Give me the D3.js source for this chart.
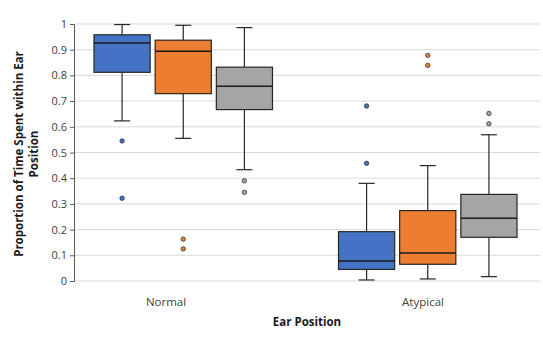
<!DOCTYPE html>
<html>
<head>
<meta charset="utf-8">
<script src="https://cdn.jsdelivr.net/npm/d3@7"></script>
<style>
  body { margin: 0; background: #fff; }
  text { font-family: "Open Sans", "Liberation Sans", sans-serif; }
</style>
</head>
<body>
<svg id="chart" width="543" height="339"></svg>
<script>
var categories = ["Normal", "Atypical"];
var seriesNames = ["Series 1", "Series 2", "Series 3"];
var seriesColors = ["#4472C4", "#ED7D31", "#A5A5A5"];
var yTicks = [0, 0.1, 0.2, 0.3, 0.4, 0.5, 0.6, 0.7, 0.8, 0.9, 1];

// [whiskerLow, q1, median, q3, whiskerHigh] per category, per series
var blueStats = [[0.623, 0.812, 0.926, 0.958, 0.998], [0.004, 0.045, 0.078, 0.192, 0.380]];
var orangeStats = [[0.555, 0.729, 0.894, 0.937, 0.995], [0.008, 0.065, 0.109, 0.274, 0.449]];
var grayStats = [[0.433, 0.667, 0.758, 0.832, 0.986], [0.017, 0.170, 0.244, 0.337, 0.569]];
var blueOutliers = [[0.545, 0.322], [0.681, 0.458]];
var orangeOutliers = [[0.163, 0.125], [0.878, 0.839]];
var grayOutliers = [[0.390, 0.345], [0.652, 0.612]];

var allStats = [blueStats, orangeStats, grayStats];
var allOutliers = [blueOutliers, orangeOutliers, grayOutliers];

var svg = d3.select("#chart"),
    margin = { top: 24, right: 3, bottom: 58, left: 74 },
    width = +svg.attr("width") - margin.left - margin.right,
    height = +svg.attr("height") - margin.top - margin.bottom;

var y = d3.scaleLinear().domain([0, 1]).range([height, 0]);

// box groups sit a bit right of the category labels (as in the source)
var x = d3.scaleBand().domain(categories).range([20, 443]).paddingInner(0.27);
var xInner = d3.scaleBand().domain(seriesNames).range([0, x.bandwidth()]).paddingInner(0.082);
var xLabel = d3.scalePoint().domain(categories).range([92, 349]);

var g = svg.append("g")
    .attr("transform", "translate(" + margin.left + "," + margin.top + ")");

// grid
g.append("g").selectAll("line")
    .data(yTicks)
    .enter().append("line")
    .attr("x1", 0).attr("x2", width)
    .attr("y1", function (d) { return y(d); })
    .attr("y2", function (d) { return y(d); })
    .attr("stroke", "#d9d9d9").attr("stroke-width", 1);

// y axis
var yAxis = g.append("g")
    .call(d3.axisLeft(y).tickValues(yTicks).tickSize(4).tickFormat(function (d) { return d3.format("")(d); }));
yAxis.select(".domain").attr("stroke", "#595959");
yAxis.selectAll(".tick line").attr("stroke", "#595959");
yAxis.selectAll(".tick text").attr("font-size", 11).attr("fill", "#404040")
    .attr("x", -7).attr("font-family", "'Open Sans', sans-serif");

// boxes
var boxW = xInner.bandwidth();
seriesNames.forEach(function (s, si) {
    var color = seriesColors[si];
    var stroke = "#262626";
    categories.forEach(function (c, ci) {
        var st = allStats[si][ci];
        var x0 = x(c) + xInner(s);
        var cx = x0 + boxW / 2;
        var bg = g.append("g");
        // whiskers
        bg.append("line").attr("x1", cx).attr("x2", cx)
            .attr("y1", y(st[4])).attr("y2", y(st[3]))
            .attr("stroke", stroke).attr("stroke-width", 1.2);
        bg.append("line").attr("x1", cx).attr("x2", cx)
            .attr("y1", y(st[1])).attr("y2", y(st[0]))
            .attr("stroke", stroke).attr("stroke-width", 1.2);
        bg.append("line").attr("x1", cx - 8).attr("x2", cx + 8)
            .attr("y1", y(st[4])).attr("y2", y(st[4]))
            .attr("stroke", stroke).attr("stroke-width", 1.2);
        bg.append("line").attr("x1", cx - 8).attr("x2", cx + 8)
            .attr("y1", y(st[0])).attr("y2", y(st[0]))
            .attr("stroke", stroke).attr("stroke-width", 1.2);
        // box
        bg.append("rect")
            .attr("x", x0).attr("width", boxW)
            .attr("y", y(st[3])).attr("height", y(st[1]) - y(st[3]))
            .attr("fill", color).attr("stroke", stroke).attr("stroke-width", 1.2);
        bg.append("line").attr("x1", x0).attr("x2", x0 + boxW)
            .attr("y1", y(st[2])).attr("y2", y(st[2]))
            .attr("stroke", "#1a1a1a").attr("stroke-width", 1.4);
        // outliers
        bg.selectAll("circle")
            .data(allOutliers[si][ci])
            .enter().append("circle")
            .attr("cx", cx).attr("cy", function (d) { return y(d); })
            .attr("r", 2.2)
            .attr("fill", color).attr("stroke", "#333").attr("stroke-width", 0.8);
    });
});

// category labels
g.append("g").selectAll("text")
    .data(categories)
    .enter().append("text")
    .attr("x", function (d) { return xLabel(d); })
    .attr("y", height + 25)
    .attr("text-anchor", "middle")
    .attr("font-size", 11.5).attr("fill", "#404040")
    .text(function (d) { return d; });

// axis titles
svg.append("text")
    .attr("x", 307).attr("y", 326)
    .attr("text-anchor", "middle")
    .attr("font-size", 11.5).attr("font-weight", "bold").attr("fill", "#1a1a1a")
    .text("Ear Position");

var yt = svg.append("text")
    .attr("transform", "translate(23,154) rotate(-90)")
    .attr("text-anchor", "middle")
    .attr("font-size", 11.5).attr("font-weight", "bold").attr("fill", "#1a1a1a");
yt.append("tspan").attr("x", 0).attr("y", 0).text("Proportion of Time Spent within Ear");
yt.append("tspan").attr("x", 0).attr("y", 15).text("Position");
</script>
</body>
</html>
